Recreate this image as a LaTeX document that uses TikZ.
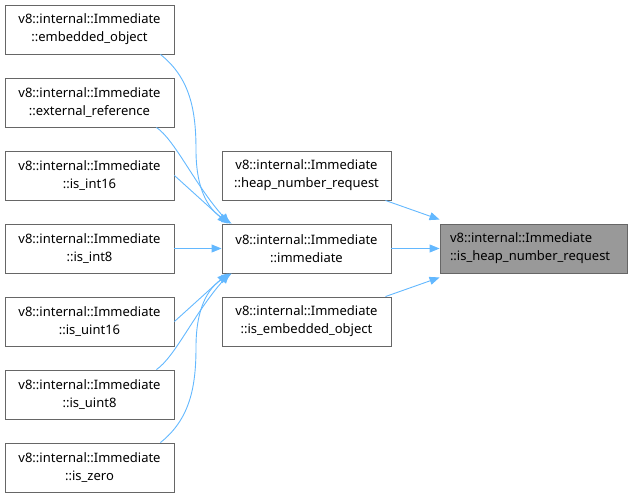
\documentclass[tikz,border=0pt]{standalone}
\usepackage{fontspec}
\setmainfont{Noto Sans}
\usetikzlibrary{arrows.meta,positioning,calc}
\definecolor{edgeblue}{HTML}{63B8FF}
\definecolor{boxgray}{HTML}{666666}
\definecolor{hilite}{HTML}{999999}

\tikzset{
  fn/.style={draw=boxgray, fill=white, line width=0.9pt, minimum width=169pt, minimum height=49pt,
    inner sep=0pt, align=center, font=\fontsize{13}{18}\selectfont},
  call/.style={draw=edgeblue, line width=0.9pt, -{Triangle[length=10pt,width=8pt]}}
}

\begin{document}
\begin{tikzpicture}[x=1pt,y=-1pt]
  \useasboundingbox (0,0) rectangle (631,499);
  % callers of immediate
  \node[fn] (embObj) at (89.5,29.5) {v8::internal::Immediate\\::embedded\_object};
  \node[fn] (extRef) at (89.5,102.5) {v8::internal::Immediate\\::external\_reference};
  \node[fn] (int16) at (89.5,175.5) {v8::internal::Immediate\\::is\_int16};
  \node[fn] (int8) at (89.5,248.5) {v8::internal::Immediate\\::is\_int8};
  \node[fn] (uint16) at (89.5,321.5) {v8::internal::Immediate\\::is\_uint16};
  \node[fn] (uint8) at (89.5,394.5) {v8::internal::Immediate\\::is\_uint8};
  \node[fn] (zero) at (89.5,467.5) {v8::internal::Immediate\\::is\_zero};
  % middle column
  \node[fn] (heapReq) at (306.5,175.5) {v8::internal::Immediate\\::heap\_number\_request};
  \node[fn] (imm) at (306.5,248.5) {v8::internal::Immediate\\::immediate};
  \node[fn] (isEmb) at (306.5,321.5) {v8::internal::Immediate\\::is\_embedded\_object};
  % the function itself
  \node[fn, fill=hilite, minimum width=187pt, text width=167pt, inner xsep=10pt, align=left] (isHeap) at (533.5,248.5)
    {v8::internal::Immediate\\::is\_heap\_number\_request};

  \draw[call] ([xshift=-14pt]embObj.south east) .. controls (190,78) and (196,110) .. (196,150)
    .. controls (196,195) and (212,212) .. ([xshift=10pt]imm.north west);
  \draw[call] ([xshift=-18pt]extRef.south east) .. controls (175,140) and (195,185) .. ([xshift=8pt]imm.north west);
  \draw[call] (int16.east) -- ([xshift=6pt]imm.north west);
  \draw[call] (int8.east) -- (imm.west);
  \draw[call] (uint16.east) -- ([xshift=6pt]imm.south west);
  \draw[call] ([xshift=-18pt]uint8.north east) .. controls (175,357) and (195,312) .. ([xshift=8pt]imm.south west);
  \draw[call] ([xshift=-14pt]zero.north east) .. controls (190,419) and (196,387) .. (196,347)
    .. controls (196,302) and (212,285) .. ([xshift=10pt]imm.south west);

  \draw[call] ([xshift=-6pt]heapReq.south east) -- ([yshift=4pt]isHeap.north west);
  \draw[call] (imm.east) -- (isHeap.west);
  \draw[call] ([xshift=-6pt]isEmb.north east) -- ([yshift=-4pt]isHeap.south west);
\end{tikzpicture}
\end{document}
